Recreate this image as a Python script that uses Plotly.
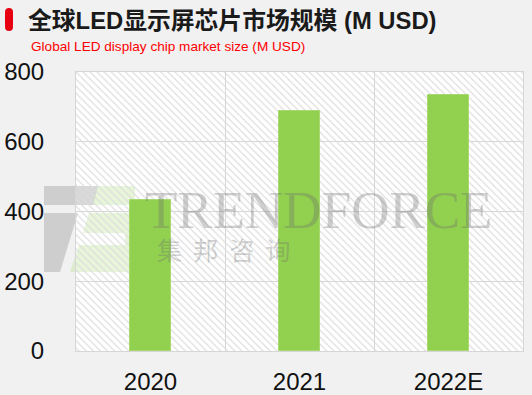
import plotly.graph_objects as go

# ---- data ----
categories = ["2020", "2021", "2022E"]
values = [434, 689, 733]
y_ticks = [0, 200, 400, 600, 800]
title_text = "全球LED显示屏芯片市场规模 (M USD)"
subtitle_text = "Global LED display chip market size (M USD)"
watermark_en = "TRENDFORCE"
watermark_cn = "集  邦  咨  询"

W, H = 532, 395
ML, MR, MT, MB = 76, 9, 72, 44
PW, PH = W - ML - MR, H - MT - MB


def px(x):
    return (x - ML) / PW


def py(y):
    return (H - MB - y) / PH


def poly(points):
    s = "M " + " L ".join(f"{px(a):.5f},{py(b):.5f}" for a, b in points) + " Z"
    return s


fig = go.Figure()

# hatched plot background
fig.add_trace(go.Bar(
    x=categories, y=[max(y_ticks)] * len(categories), width=1,
    marker=dict(color="#dcdcdc", line=dict(width=0),
                pattern=dict(shape="\\", size=5, solidity=0.22, fillmode="replace")),
    hoverinfo="skip", showlegend=False,
))

fig.add_trace(go.Bar(
    x=categories, y=values, width=0.27,
    marker=dict(color="#92d050", line=dict(color="#a6da70", width=1)),
    showlegend=False,
))

shapes = []
# logo watermark
gray = "rgba(150,150,150,0.38)"
green = "rgba(146,208,80,0.22)"
for pts, col in [
    ([(44, 186), (98, 186), (93, 205), (44, 205)], gray),
    ([(44, 213), (78, 213), (60, 272), (44, 272)], gray),
    ([(98, 186), (135, 186), (135, 205), (92, 205)], green),
    ([(89, 213), (135, 213), (135, 233), (83, 233)], green),
    ([(125, 233), (135, 233), (135, 245), (125, 245)], green),
    ([(79, 245), (135, 245), (135, 272), (70, 272)], green),
]:
    shapes.append(dict(type="path", xref="paper", yref="paper", path=poly(pts),
                       fillcolor=col, line=dict(width=0), layer="below"))

# red pill marker next to title
x0, x1, y0, y1 = 5, 13, 8, 31
r = 4
pill = (f"M {px(x0):.5f},{py(y0 + r):.5f} Q {px(x0):.5f},{py(y0):.5f} {px(x0 + r):.5f},{py(y0):.5f} "
        f"Q {px(x1):.5f},{py(y0):.5f} {px(x1):.5f},{py(y0 + r):.5f} L {px(x1):.5f},{py(y1 - r):.5f} "
        f"Q {px(x1):.5f},{py(y1):.5f} {px(x0 + r):.5f},{py(y1):.5f} Q {px(x0):.5f},{py(y1):.5f} {px(x0):.5f},{py(y1 - r):.5f} Z")
shapes.append(dict(type="path", xref="paper", yref="paper", path=pill,
                   fillcolor="#e60012", line=dict(width=0), layer="above"))

annotations = [
    dict(text=f"<b>{title_text}</b>", xref="paper", yref="paper", x=px(26), y=py(20),
         xanchor="left", yanchor="middle", showarrow=False,
         font=dict(size=23.8, color="#1a1a1a", family="Liberation Sans, Noto Sans CJK SC")),
    dict(text=subtitle_text, xref="paper", yref="paper", x=px(29), y=py(46),
         xanchor="left", yanchor="middle", showarrow=False,
         font=dict(size=13.6, color="#ff0000", family="Liberation Sans, Arial")),
    dict(text=watermark_en, xref="paper", yref="paper", x=px(318), y=py(210),
         xanchor="center", yanchor="middle", showarrow=False,
         font=dict(size=53, color="rgba(110,110,110,0.33)", family="Liberation Serif, Times New Roman")),
    dict(text=watermark_cn, xref="paper", yref="paper", x=px(224), y=py(249),
         xanchor="center", yanchor="middle", showarrow=False,
         font=dict(size=25, color="rgba(110,110,110,0.33)", family="Noto Sans CJK SC")),
]

fig.update_layout(
    width=W, height=H,
    margin=dict(l=ML, r=MR, t=MT, b=MB, autoexpand=False),
    paper_bgcolor="#f1f1f1", plot_bgcolor="#ffffff",
    barmode="overlay", bargap=0,
    shapes=shapes, annotations=annotations,
    font=dict(family="Liberation Sans, Arial", color="#111111"),
)
fig.update_xaxes(
    type="category", tickson="boundaries", showgrid=True, gridcolor="#d6d6d6", gridwidth=1,
    showline=True, mirror=True, linecolor="#d6d6d6", ticks="", automargin=False,
    tickfont=dict(size=24, color="#111111"), ticklabelstandoff=9,
)
fig.update_yaxes(
    range=[0, max(y_ticks)], tickvals=y_ticks, showgrid=True, gridcolor="#d6d6d6", gridwidth=1,
    zeroline=False, showline=True, mirror=True, linecolor="#d6d6d6", ticks="", automargin=False,
    tickfont=dict(size=24, color="#111111"), ticklabelstandoff=26,
)

fig.write_html(
    "out.html",
    config={"displayModeBar": False},
    post_script="document.body.style.margin='0';document.body.style.padding='0';document.documentElement.style.background='#f1f1f1';",
)
